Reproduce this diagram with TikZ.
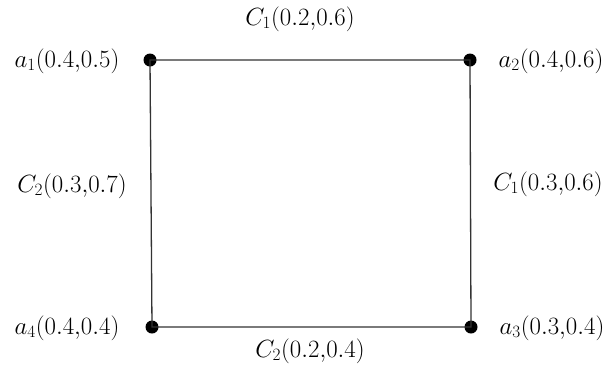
\documentclass[tikz,border=0pt]{standalone}
\begin{document}
\begin{tikzpicture}[x=1pt,y=-1pt,
  vtx/.style={circle,fill=black,inner sep=0pt,minimum size=13pt},
  lbl/.style={font=\fontsize{23}{27}\selectfont,inner sep=0pt},
  edge/.style={line width=1.3pt,draw=black!80}]
\useasboundingbox (0,0) rectangle (605,365);
\node[vtx] (a1) at (150,60) {};
\node[vtx] (a2) at (470,60) {};
\node[vtx] (a3) at (471,327) {};
\node[vtx] (a4) at (152,327) {};
\draw[edge] (a1.center) -- (a2.center) -- (a3.center) -- (a4.center) -- cycle;
\node[lbl] (l1) at (67,61) {$a_1(0.4{,}0.5)$};
\node[lbl] (l2) at (551,61) {$a_2(0.4{,}0.6)$};
\node[lbl] (l3) at (552,328) {$a_3(0.3{,}0.4)$};
\node[lbl] (l4) at (67,328) {$a_4(0.4{,}0.4)$};
\node[lbl] (e1) at (300,19) {$C_1(0.2{,}0.6)$};
\node[lbl] (e2) at (548,184) {$C_1(0.3{,}0.6)$};
\node[lbl] (e3) at (310,351) {$C_2(0.2{,}0.4)$};
\node[lbl] (e4) at (72,186) {$C_2(0.3{,}0.7)$};
\end{tikzpicture}
\end{document}
